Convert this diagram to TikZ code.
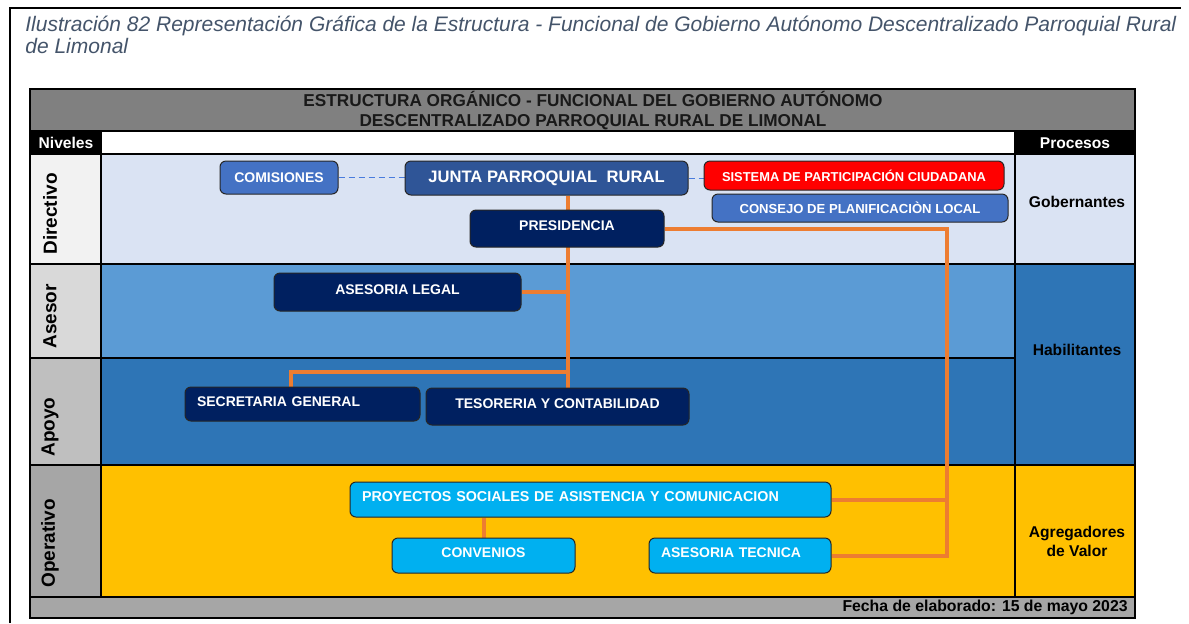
\documentclass[tikz,border=0pt]{standalone}
\usepackage{fontspec}
\setmainfont{Liberation Sans}
\usetikzlibrary{positioning,calc}
\definecolor{limcaption}{HTML}{44546A}
\definecolor{limtitle}{HTML}{808080}
\definecolor{limpale}{HTML}{DAE3F3}
\definecolor{limmid}{HTML}{5B9BD5}
\definecolor{limdeep}{HTML}{2E75B6}
\definecolor{limgold}{HTML}{FFC000}
\definecolor{limnavy}{HTML}{002060}
\definecolor{limjunta}{HTML}{2F5597}
\definecolor{limroyal}{HTML}{4472C4}
\definecolor{limcyan}{HTML}{00B0F0}
\definecolor{limorange}{HTML}{ED7D31}
\pgfdeclarelayer{grid}
\pgfdeclarelayer{wires}
\pgfsetlayers{grid,wires,main}

\begin{document}
\begin{tikzpicture}[
  x=0.5pt, y=-0.5pt,
  font=\bfseries\fontsize{7}{8}\selectfont,
  unit/.style={draw=black!85, line width=0.5pt, rounded corners=3pt,
               text=white, inner sep=0pt, align=center},
  navybox/.style={unit, fill=limnavy, text height=5pt, text depth=3pt},
  royalbox/.style={unit, fill=limroyal},
  cyanbox/.style={unit, fill=limcyan, text height=5pt, text depth=3pt},
  level/.style={rotate=90, anchor=west, inner sep=0pt,
                font=\bfseries\fontsize{9.5}{10}\selectfont},
  process/.style={align=center, inner sep=0pt,
                  font=\bfseries\fontsize{7.8}{9.5}\selectfont},
  link/.style={draw=limorange, line width=2pt},
  tie/.style={draw=limmid!80!blue, line width=0.5pt, densely dashed},
  rule/.style={line width=1pt}
]
\useasboundingbox (0,0) rectangle (1189,623);

% caption and outer frame
\draw[line width=1pt] (10,623) -- (10,8) -- (1181,8);
\node[anchor=north west, align=left, inner sep=0pt, text=limcaption,
      font=\itshape\fontsize{10.5}{11}\selectfont] (caption) at (25,16)
  {Ilustración 82 Representación Gráfica de la Estructura - Funcional de Gobierno Autónomo Descentralizado Parroquial Rural\\de Limonal};

% table
\begin{pgfonlayer}{grid}
\fill[limtitle] (30,89) rectangle (1135,131);
\fill[black] (30,131) rectangle (101,154);
\fill[white] (101,131) rectangle (1015,154);
\fill[black] (1015,131) rectangle (1135,154);
\fill[black!5] (30,154) rectangle (101,264);
\fill[black!15] (30,264) rectangle (101,358);
\fill[black!25] (30,358) rectangle (101,465);
\fill[black!35] (30,465) rectangle (101,597);
\fill[limpale] (101,154) rectangle (1135,264);
\fill[limmid] (101,264) rectangle (1015,358);
\fill[limdeep] (101,358) rectangle (1015,465);
\fill[limdeep] (1015,264) rectangle (1135,465);
\fill[limgold] (101,465) rectangle (1135,597);
\fill[black!35] (30,597) rectangle (1135,618);
\draw[rule] (30,131) -- (1135,131);
\draw[rule] (30,154) -- (1135,154);
\draw[rule] (30,264) -- (1135,264);
\draw[rule] (30,358) -- (1015,358);
\draw[rule] (30,465) -- (1135,465);
\draw[rule] (30,597) -- (1135,597);
\draw[rule] (101,131) -- (101,597);
\draw[rule] (1015,131) -- (1015,597);
\draw[line width=1.3pt] (30,89) rectangle (1135,618);
\end{pgfonlayer}

\node[align=center, text=black!90, font=\bfseries\fontsize{8.6}{10}\selectfont] (title) at (593,111)
  {ESTRUCTURA ORGÁNICO - FUNCIONAL DEL GOBIERNO AUTÓNOMO\\DESCENTRALIZADO PARROQUIAL RURAL DE LIMONAL};
\node[process, text=white] (niveles) at (66,143) {Niveles};
\node[process, text=white] (procesos) at (1075,143) {Procesos};

\node[level] (directivo) at (50,255) {Directivo};
\node[level] (asesor) at (50,349) {Asesor};
\node[level] (apoyo) at (50,457) {Apoyo};
\node[level] (operativo) at (50,588) {Operativo};

\node[process] (gobernantes) at (1077,202) {Gobernantes};
\node[process] (habilitantes) at (1077,350) {Habilitantes};
\node[process] (agregadores) at (1077,541) {Agregadores\\de Valor};

\node[anchor=east, inner sep=0pt, font=\bfseries\fontsize{7.9}{9}\selectfont] (fecha) at (1128,607)
  {Fecha de elaborado: 15 de mayo 2023};

% units
\node[royalbox, minimum width=59pt, minimum height=16.5pt] (com) at (279,177.5) {COMISIONES};
\node[unit, fill=limjunta, minimum width=141.5pt, minimum height=17pt,
      font=\bfseries\fontsize{8.3}{9}\selectfont] (junta) at (546.5,178) {JUNTA PARROQUIAL\ \ RURAL};
\node[unit, fill=red, minimum width=150pt, minimum height=14.5pt,
      font=\bfseries\fontsize{6.45}{7}\selectfont] (sist) at (854,175.5) {SISTEMA DE PARTICIPACIÓN CIUDADANA};
\node[royalbox, minimum width=148pt, minimum height=14pt,
      font=\bfseries\fontsize{6.55}{7}\selectfont] (cons) at (860,208) {CONSEJO DE PLANIFICACIÒN LOCAL};
\node[navybox, minimum width=97pt, minimum height=18.5pt] (pres) at (567,228.5) {PRESIDENCIA};
\node[navybox, minimum width=123.5pt, minimum height=19pt] (legal) at (397.5,292) {ASESORIA LEGAL};
\node[navybox, minimum width=117.5pt, minimum height=17pt, text width=105.5pt,
      align=left] (secre) at (302.5,404) {SECRETARIA GENERAL};
\node[navybox, minimum width=131.5pt, minimum height=18.5pt] (tes) at (557.5,406.5) {TESORERIA Y CONTABILIDAD};
\node[cyanbox, minimum width=240.5pt, minimum height=17.5pt, text width=228.5pt,
      align=left, font=\bfseries\fontsize{7.15}{8}\selectfont] (proy) at (590.5,499.5)
  {PROYECTOS SOCIALES DE ASISTENCIA Y COMUNICACION};
\node[cyanbox, minimum width=91.5pt, minimum height=17.5pt] (conv) at (483.5,555.5) {CONVENIOS};
\node[cyanbox, minimum width=91pt, minimum height=17.5pt, text width=79pt,
      align=left] (tec) at (740,555.5) {ASESORIA TECNICA};

% connectors
\coordinate (trunk) at (568,200);
\coordinate (secdrop) at (291,372);
\coordinate (rise) at (947,232);
\begin{pgfonlayer}{wires}
\draw[tie] (com.east) -- (com.east -| junta.west);
\draw[tie] (junta.east) -- (junta.east -| sist.west);
\draw[link] (trunk |- junta.south) -- (trunk |- tes.north);
\draw[link] (legal.east) -- (legal.east -| trunk);
\draw[link] (trunk |- secdrop) -- (secdrop) -- (secdrop |- secre.north);
\draw[link] (pres.east) -- (pres.east -| rise) -- (rise |- tec.east) -- (tec.east);
\draw[link] (proy.east) -- (proy.east -| rise);
\draw[link] (proy.south -| conv.north) -- (conv.north);
\end{pgfonlayer}
\end{tikzpicture}
\end{document}
